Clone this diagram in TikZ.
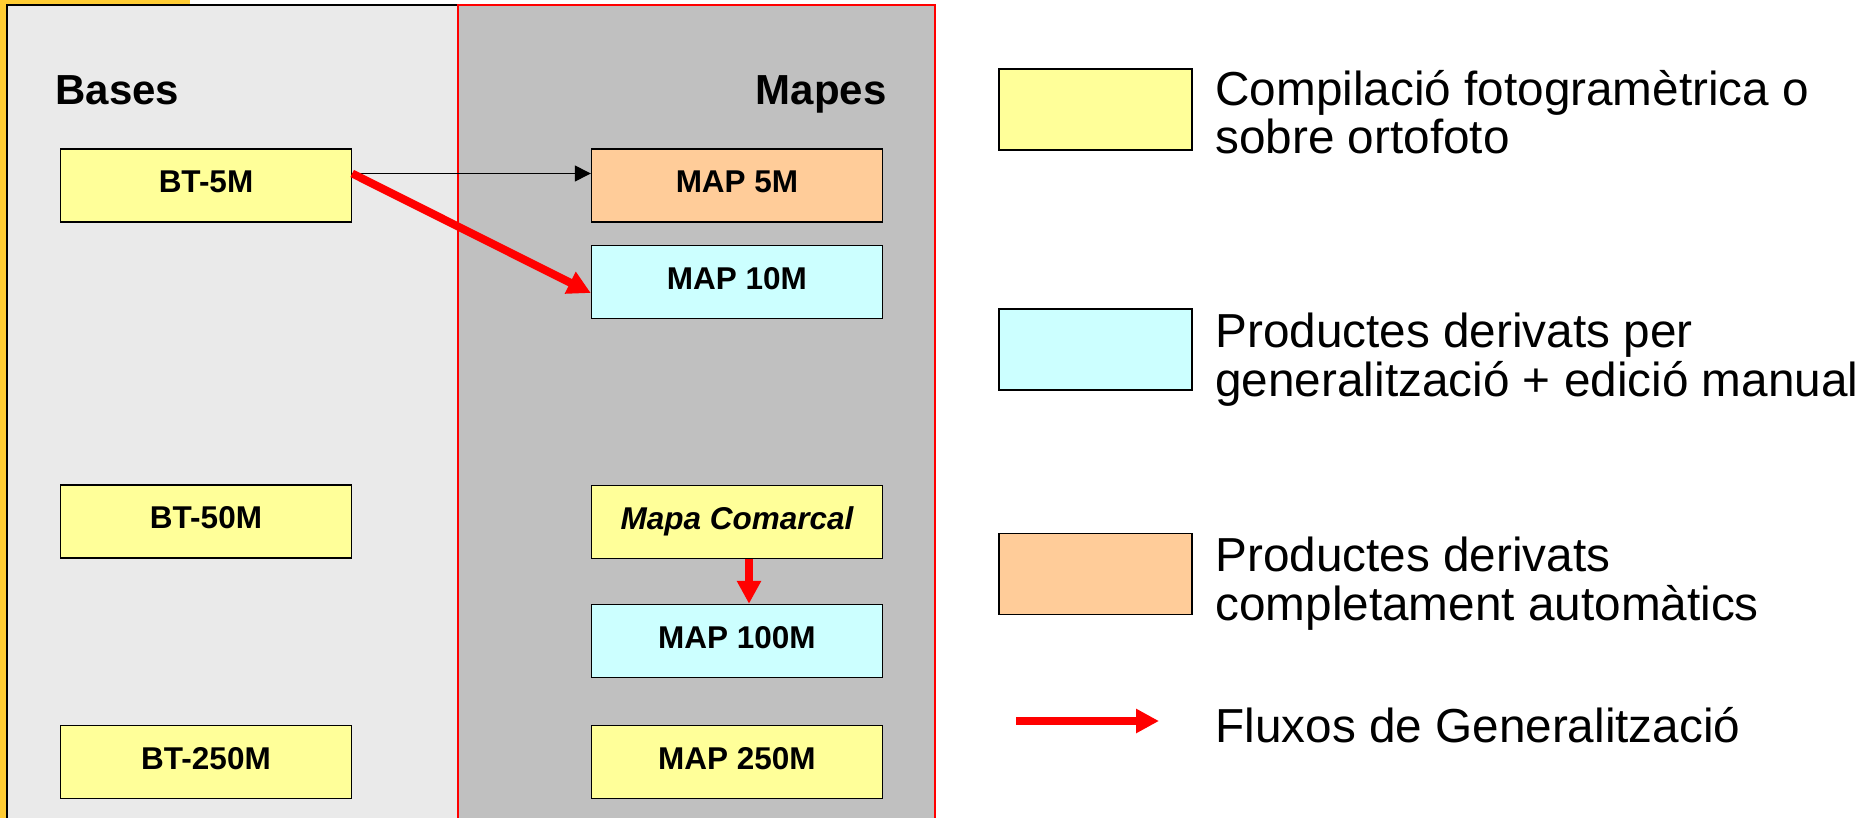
\documentclass[tikz,border=0pt]{standalone}
\usepackage{fontspec}
\setmainfont{Liberation Sans}
\usepackage{tikz}
\usetikzlibrary{arrows.meta}

\definecolor{framegold}{RGB}{255,204,51}
\definecolor{basegray}{RGB}{234,234,234}
\definecolor{mapgray}{RGB}{192,192,192}
\definecolor{compyellow}{RGB}{255,255,153}
\definecolor{gencyan}{RGB}{204,255,255}
\definecolor{autoorange}{RGB}{255,204,153}

\begin{document}
\begin{tikzpicture}[x=0.5pt,y=-0.5pt,
  prodbox/.style={draw=black,line width=0.7pt,minimum width=145.5pt,minimum height=36.5pt,
    inner sep=0pt,font=\fontsize{15.75}{18}\selectfont\bfseries,text height=11.25pt,text depth=4pt},
  keybox/.style={draw=black,line width=0.7pt,minimum width=96.5pt,minimum height=40.5pt,inner sep=0pt},
  keytext/.style={anchor=base west,align=left,inner sep=0pt,font=\fontsize{23.85}{24.25}\selectfont},
  header/.style={inner sep=0pt,font=\fontsize{21}{24}\selectfont\bfseries},
  genflow/.style={draw=red,line width=4pt,-{Triangle[length=11.5pt,width=11.5pt]}}]
  \def\W{1868} % page width (px)
  \def\H{818}  % page height
  \def\colB{206} % centre of the Bases column
  \def\colM{737} % centre of the Mapes column

  \useasboundingbox (0,0) rectangle (\W,\H);

  % Slide frame and the two panes
  \fill[framegold] (0,0) rectangle (190,5);
  \fill[framegold] (0,0) rectangle (7,\H);
  \draw[fill=basegray,line width=0.65pt] (7,5) rectangle (458,\H+20);
  \draw[fill=mapgray,draw=red,line width=0.75pt] (458,5) rectangle (935,\H+20);

  % Column titles
  \node[header,anchor=base west] (bases) at (55,105) {Bases};
  \node[header,anchor=base east] (mapes) at (887,105) {Mapes};

  % Bases
  \node[prodbox,fill=compyellow] (bt5)   at (\colB,185.5) {BT-5M};
  \node[prodbox,fill=compyellow] (bt50)  at (\colB,521.5) {BT-50M};
  \node[prodbox,fill=compyellow] (bt250) at (\colB,762)   {BT-250M};

  % Mapes
  \node[prodbox,fill=autoorange] (map5)   at (\colM,185.5) {MAP 5M};
  \node[prodbox,fill=gencyan]    (map10)  at (\colM,282)   {MAP 10M};
  \node[prodbox,fill=compyellow] (mapcom) at (\colM,522)   {\itshape Mapa Comarcal};
  \node[prodbox,fill=gencyan]    (map100) at (\colM,641)   {MAP 100M};
  \node[prodbox,fill=compyellow] (map250) at (\colM,762)   {MAP 250M};

  % Flows
  \draw[line width=0.65pt,-{Triangle[length=8pt,width=8pt]}]
    ([yshift=6pt]bt5.east) -- ([yshift=6pt]map5.west);
  \draw[genflow] ([yshift=6pt]bt5.east) -- ([yshift=-5.5pt]map10.west);
  \draw[genflow] ([xshift=6pt]mapcom.south) -- ([xshift=6pt]map100.north);

  % Legend (base of a two-line text is its last line)
  \node[keybox,fill=compyellow] (keycomp) at (1095.5,109.5) {};
  \node[keybox,fill=gencyan]    (keygen)  at (1095.5,349.5) {};
  \node[keybox,fill=autoorange] (keyauto) at (1095.5,574)   {};
  \coordinate (keyflowA) at (1016,721);
  \coordinate (keyflowB) at (1159,721);
  \draw[genflow] (keyflowA) -- (keyflowB);

  \node[keytext] (txtcomp) at (1215,154) {Compilació fotogramètrica o\\sobre ortofoto};
  \node[keytext] (txtgen)  at (1215,396) {Productes derivats per\\generalització + edició manual};
  \node[keytext] (txtauto) at (1215,620) {Productes derivats\\completament automàtics};
  \node[keytext] (txtflow) at (1215,742) {Fluxos de Generalització};
\end{tikzpicture}
\end{document}
